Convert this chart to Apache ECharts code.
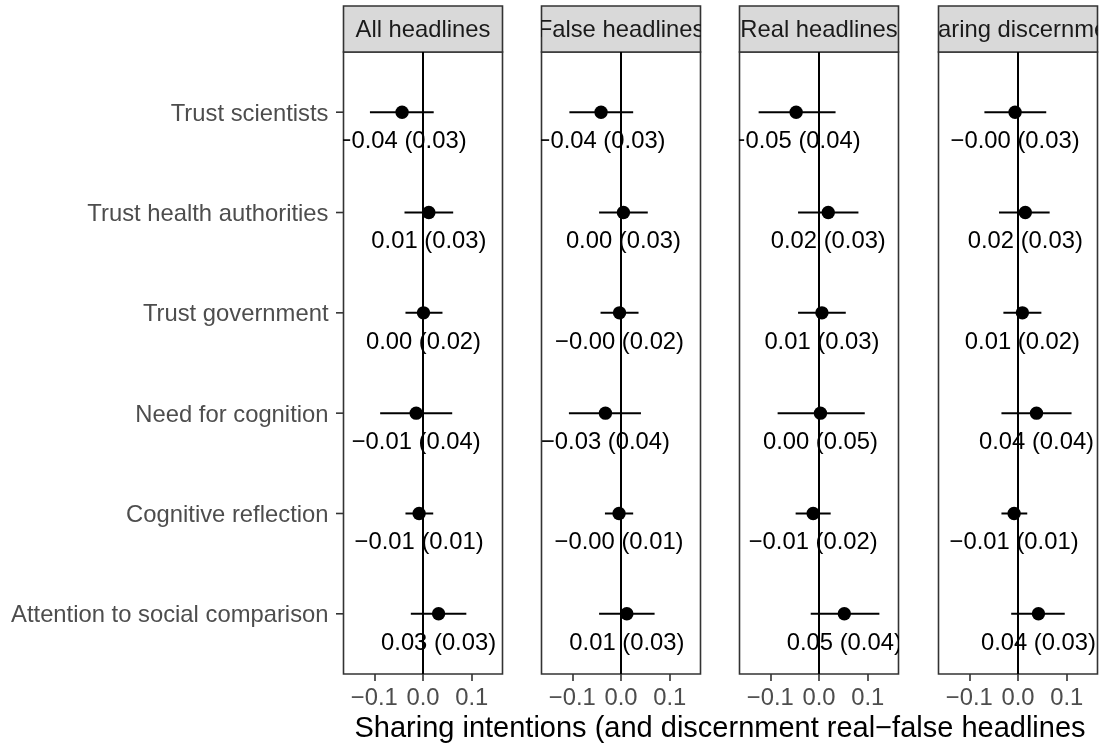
<!DOCTYPE html>
<html>
<head>
<meta charset="utf-8">
<script src="https://cdn.jsdelivr.net/npm/echarts@6/dist/echarts.min.js"></script>
<style>html,body{margin:0;padding:0;background:#fff}#c{width:1100px;height:746px}</style>
</head>
<body>
<div id="c"></div>
<script>
// ---- data ----
const categories = ["Trust scientists", "Trust health authorities", "Trust government", "Need for cognition", "Cognitive reflection", "Attention to social comparison"];
const categoryPos = [1, 2, 3, 4, 5, 6];
const panelTitles = ["All headlines", "False headlines", "Real headlines", "Sharing discernment"];
const xTicks = [-0.1, 0, 0.1];
const xTickLabels = ["\u22120.1", "0.0", "0.1"];

const allEst  = [-0.043, 0.012, 0.001, -0.014, -0.008, 0.032];
const allLow  = [-0.109, -0.038, -0.036, -0.088, -0.036, -0.025];
const allHigh = [0.022, 0.062, 0.040, 0.060, 0.021, 0.089];
const allLab  = ["\u22120.04 (0.03)", "0.01 (0.03)", "0.00 (0.02)", "\u22120.01 (0.04)", "\u22120.01 (0.01)", "0.03 (0.03)"];

const falseEst  = [-0.041, 0.005, -0.003, -0.032, -0.004, 0.012];
const falseLow  = [-0.106, -0.045, -0.042, -0.107, -0.033, -0.045];
const falseHigh = [0.025, 0.055, 0.036, 0.041, 0.025, 0.069];
const falseLab  = ["\u22120.04 (0.03)", "0.00 (0.03)", "\u22120.00 (0.02)", "\u22120.03 (0.04)", "\u22120.00 (0.01)", "0.01 (0.03)"];

const realEst  = [-0.047, 0.019, 0.006, 0.003, -0.012, 0.052];
const realLow  = [-0.124, -0.043, -0.043, -0.085, -0.048, -0.017];
const realHigh = [0.034, 0.081, 0.055, 0.094, 0.024, 0.124];
const realLab  = ["\u22120.05 (0.04)", "0.02 (0.03)", "0.01 (0.03)", "0.00 (0.05)", "\u22120.01 (0.02)", "0.05 (0.04)"];

const discEst  = [-0.006, 0.015, 0.009, 0.038, -0.008, 0.042];
const discLow  = [-0.069, -0.039, -0.030, -0.034, -0.034, -0.014];
const discHigh = [0.058, 0.065, 0.048, 0.110, 0.019, 0.096];
const discLab  = ["\u22120.00 (0.03)", "0.02 (0.03)", "0.01 (0.02)", "0.04 (0.04)", "\u22120.01 (0.01)", "0.04 (0.03)"];

const xTitle = "Sharing intentions (and discernment real\u2212false headlines";

// ---- layout ----
const FONT = "Liberation Sans";
const FS = 23.8;
const panelLefts = [343.5, 541.5, 739.5, 938.5];
const panelWidth = 159;
const panelTop = 52, panelHeight = 622;
const stripTop = 6, stripHeight = 46;
const XMAX = 0.1633;

const panelData = [
  [allEst, allLow, allHigh, allLab],
  [falseEst, falseLow, falseHigh, falseLab],
  [realEst, realLow, realHigh, realLab],
  [discEst, discLow, discHigh, discLab]
];

const grids = [], xAxes = [], yAxes = [], series = [];

panelData.forEach((pd, i) => {
  grids.push({left: panelLefts[i], top: panelTop, width: panelWidth, height: panelHeight,
    show: true, borderColor: '#333333', borderWidth: 1.6, backgroundColor: '#ffffff'});
  xAxes.push({type: 'value', gridIndex: i, min: -XMAX, max: XMAX,
    splitLine: {show: false}, axisLine: {show: false},
    axisTick: {show: true, customValues: xTicks, length: 7, lineStyle: {color: '#333333', width: 1.6}},
    axisLabel: {show: true, customValues: xTicks, margin: 12, color: '#4D4D4D', fontSize: FS, fontFamily: FONT,
      formatter: v => { const k = xTicks.findIndex(t => Math.abs(t - v) < 1e-9); return k >= 0 ? xTickLabels[k] : ''; }}
  });
  yAxes.push({type: 'value', gridIndex: i, min: 0.4, max: 6.6, inverse: true,
    splitLine: {show: false}, axisLine: {show: false},
    axisTick: {show: false}, axisLabel: {show: false}
  });
  const [est, lo, hi, lab] = pd;
  const data = est.map((e, k) => [categoryPos[k], e, lo[k], hi[k]]);
  series.push({
    type: 'custom', xAxisIndex: i, yAxisIndex: i, clip: true, data: data,
    renderItem: (params, api) => {
      const y = api.value(0);
      const p = api.coord([api.value(1), y]);
      const l = api.coord([api.value(2), y]);
      const h = api.coord([api.value(3), y]);
      return {type: 'group', children: [
        {type: 'line', shape: {x1: l[0], y1: l[1], x2: h[0], y2: h[1]}, style: {stroke: '#000', lineWidth: 2}},
        {type: 'circle', shape: {cx: p[0], cy: p[1], r: 6.7}, style: {fill: '#000'}},
        {type: 'text', x: p[0], y: p[1] + 29.2, style: {text: lab[params.dataIndex], fill: '#000',
          fontSize: FS, fontFamily: FONT, align: 'center', verticalAlign: 'middle'}}
      ]};
    },
    markLine: {silent: true, symbol: 'none', label: {show: false},
      lineStyle: {color: '#000', width: 2, type: 'solid'}, data: [{xAxis: 0}]},
    z: 3
  });
});

// y-axis ticks and category labels of the first panel
series.push({
  type: 'custom', xAxisIndex: 0, yAxisIndex: 0, clip: false,
  data: categoryPos.map(v => [v]),
  renderItem: (params, api) => {
    const c = api.coord([-XMAX, api.value(0)]);
    return {type: 'group', children: [
      {type: 'line', shape: {x1: c[0] - 7.5, y1: c[1], x2: c[0], y2: c[1]},
        style: {stroke: '#333333', lineWidth: 1.6}},
      {type: 'text', x: c[0] - 15, y: c[1] + 1.8, style: {text: categories[params.dataIndex], fill: '#4D4D4D',
        fontSize: FS, fontFamily: FONT, align: 'right', verticalAlign: 'middle'}}
    ]};
  },
  z: 4
});

// strips
panelTitles.forEach((t, i) => {
  const gi = 4 + i;
  grids.push({left: panelLefts[i], top: stripTop, width: panelWidth, height: stripHeight,
    show: true, borderColor: '#333333', borderWidth: 1.6, backgroundColor: '#D9D9D9'});
  xAxes.push({type: 'value', gridIndex: gi, min: 0, max: 1, show: false});
  yAxes.push({type: 'value', gridIndex: gi, min: 0, max: 1, show: false});
  series.push({
    type: 'custom', xAxisIndex: gi, yAxisIndex: gi, clip: true, data: [[0.5, 0.5]],
    renderItem: (params, api) => {
      const c = api.coord([api.value(0), api.value(1)]);
      return {type: 'text', x: c[0], y: c[1] + 1.5, style: {text: t, fill: '#1A1A1A', fontSize: FS, fontFamily: FONT,
        align: 'center', verticalAlign: 'middle'}};
    }
  });
});

const chart = echarts.init(document.getElementById('c'), null, {renderer: 'canvas'});
chart.setOption({
  animation: false,
  backgroundColor: '#ffffff',
  grid: grids, xAxis: xAxes, yAxis: yAxes, series: series,
  graphic: [{type: 'text', x: 720, y: 728.5, style: {text: xTitle, fill: '#000', fontSize: 29, fontFamily: FONT,
    align: 'center', verticalAlign: 'middle'}}]
});
</script>
</body>
</html>
